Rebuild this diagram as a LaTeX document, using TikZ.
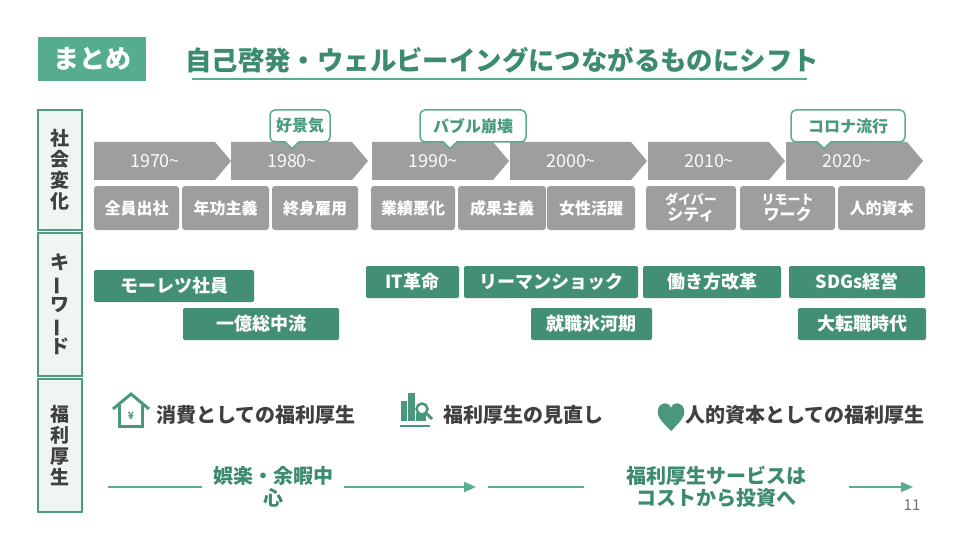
\documentclass[tikz,border=0pt]{standalone}
\usepackage{fontspec}
\setmainfont{Noto Sans CJK JP}
\usetikzlibrary{arrows.meta}
\definecolor{badgegreen}{HTML}{55AD8E}
\definecolor{titlegreen}{HTML}{3D8B6F}
\definecolor{linegreen}{HTML}{5AAE90}
\definecolor{sidefill}{HTML}{EEF5F2}
\definecolor{sideline}{HTML}{4E9C80}
\definecolor{darktext}{HTML}{404040}
\definecolor{timegray}{HTML}{9E9E9E}
\definecolor{keygreen}{HTML}{428F74}
\definecolor{callgreen}{HTML}{4A9A7E}
\definecolor{icongreen}{HTML}{4A987C}
\definecolor{pagegray}{HTML}{707070}
\newcommand{\fsz}[2]{\fontsize{#1}{#2}\selectfont}
\begin{document}
\begin{tikzpicture}[x=1pt,y=-1pt,
	sidebox/.style={draw=sideline, fill=sidefill, line width=1.5pt, minimum width=44pt, align=center, inner sep=0pt, text=darktext, font=\bfseries\fsz{19}{21}},
	graybox/.style={fill=timegray, rounded corners=3pt, minimum height=44pt, inner sep=0pt, align=center, text=white, font=\bfseries\fsz{16}{16}},
	keybox/.style={fill=keygreen, rounded corners=2pt, minimum height=32pt, inner sep=0pt, text=white, font=\bfseries\fsz{18}{18}},
	callbox/.style={draw=linegreen, fill=white, line width=1.5pt, rounded corners=5pt, minimum height=32pt, inner sep=0pt, text=callgreen, font=\bfseries\fsz{16}{16}},
	yeartext/.style={text=white!96!gray, font=\fsz{18}{18}},
	headtext/.style={anchor=west, inner sep=0pt, text=darktext, font=\bfseries\fsz{20}{20}},
	flowtext/.style={align=center, text=titlegreen, font=\bfseries\fsz{20}{22}},
	flow/.style={draw=linegreen, line width=2pt},
	flowarrow/.style={flow, -{Triangle[length=12pt,width=10pt]}}]
	\useasboundingbox[fill=white] (0,0) rectangle (960,540);

	\node[fill=badgegreen, minimum width=108pt, minimum height=44pt, inner sep=0pt, text=white, font=\bfseries\fsz{26}{26}] (badge) at (92,59) {まとめ};
	\node[anchor=west, inner sep=0pt, text=titlegreen, font=\bfseries\fsz{26.4}{26.4}] (title) at (185,60) {自己啓発・ウェルビーイングにつながるものにシフト};
	\draw[linegreen, line width=2pt] (192,79) -- (807,79);

	\node[sidebox, minimum height=120pt] (side1) at (60,170) {社\\会\\変\\化};
	\node[sidebox, minimum height=143pt] (side2) at (60,304.5) {キ\\\rotatebox[origin=c]{90}{ー}\\ワ\\\rotatebox[origin=c]{90}{ー}\\ド};
	\node[sidebox, minimum height=133pt] (side3) at (60,445.5) {福\\利\\厚\\生};

	\foreach \yr/\xs in {1970/94,1980/231,1990/372,2000/510,2010/648,2020/786}{
		\fill[timegray] (\xs,142) -- ++(121,0) -- ++(16,19) -- ++(-16,19) -- ++(-121,0) -- cycle;
		\node[yeartext] (y\yr) at ({\xs+61},161) {\yr\textasciitilde};
	}

	\foreach \n/\tx/\c/\w/\t in {1/292/300/60/好景気, 2/450/473/106/バブル崩壊, 3/824/848/114/コロナ流行}{
		\node[callbox, minimum width=\w pt] (call\n) at (\c,126) {\t};
		\fill[white] ({\tx-7},140.5) -- (\tx,147.5) -- ({\tx+7},140.5) -- cycle;
		\draw[linegreen, line width=1.5pt] ({\tx-7.5},142) -- (\tx,148.5) -- ({\tx+7.5},142);
	}

	\foreach \n/\c/\w/\t in {1/136.5/85/全員出社, 2/225.5/87/年功主義, 3/315/86/終身雇用, 4/413/84/業績悪化, 5/502/88/成果主義, 6/591/88/女性活躍, 7/691/90/{\fsz{13}{16}ダイバー\\シティ}, 8/787.5/95/{\fsz{13}{16}リモート\\ワーク}, 9/881.5/87/人的資本}{
		\node[graybox, minimum width=\w pt] (soc\n) at (\c,208) {\t};
	}

	\foreach \n/\c/\yc/\w/\t in {1/174/286/160/モーレツ社員, 2/261/324/156/一億総中流, 3/412.5/282/93/IT革命, 4/551/282/174/リーマンショック, 5/712/282/138/働き方改革, 6/857/282/136/SDGs経営, 7/591.5/324/121/就職氷河期, 8/862/324/128/大転職時代}{
		\node[keybox, minimum width=\w pt] (key\n) at (\c,\yc) {\t};
	}

	\draw[icongreen, line width=3pt] (113,409) -- (131,394) -- (149,409);
	\draw[icongreen, line width=3pt] (119.5,405) -- (119.5,426.5) -- (142.5,426.5) -- (142.5,405);
	\node[inner sep=0pt, text=icongreen, font=\bfseries\fsz{10}{10}] (yen) at (131,416) {¥};
	\node[headtext] (head1) at (156,415) {消費としての福利厚生};

	\fill[icongreen] (401,401) rectangle (406.5,421);
	\fill[icongreen] (408,393) rectangle (414.5,421);
	\fill[icongreen] (416,413) rectangle (426,421);
	\draw[icongreen, line width=2.5pt, fill=white] (422,409) circle (5.5);
	\draw[icongreen, line width=3pt] (426.5,413.5) -- (432,419);
	\draw[icongreen, line width=2pt] (400,425.5) -- (430,425.5);
	\node[headtext] (head2) at (443,415) {福利厚生の見直し};

	\fill[icongreen] (671,431) .. controls (662,422) and (656,416) .. (658,409) .. controls (660,402) and (669,401) .. (671,408) .. controls (673,401) and (682,402) .. (684,409) .. controls (686,416) and (680,422) .. (671,431);
	\node[headtext] (head3) at (685,415) {人的資本としての福利厚生};

	\node[flowtext, inner xsep=11pt] (flow1) at (273,487) {娯楽・余暇中\\心};
	\node[flowtext, inner xsep=42pt] (flow2) at (716.5,487) {福利厚生サービスは\\コストから投資へ};
	\coordinate (start) at (108,487);
	\coordinate (mid1) at (476,487);
	\coordinate (mid2) at (488,487);
	\coordinate (end) at (913,487);
	\draw[flow] (start) -- (flow1.west);
	\draw[flowarrow] (flow1.east) -- (mid1);
	\draw[flow] (mid2) -- (flow2.west);
	\draw[flowarrow] (flow2.east) -- (end);

	\node[text=pagegray, font=\fsz{15}{15}] (page) at (912,505) {11};
\end{tikzpicture}
\end{document}
